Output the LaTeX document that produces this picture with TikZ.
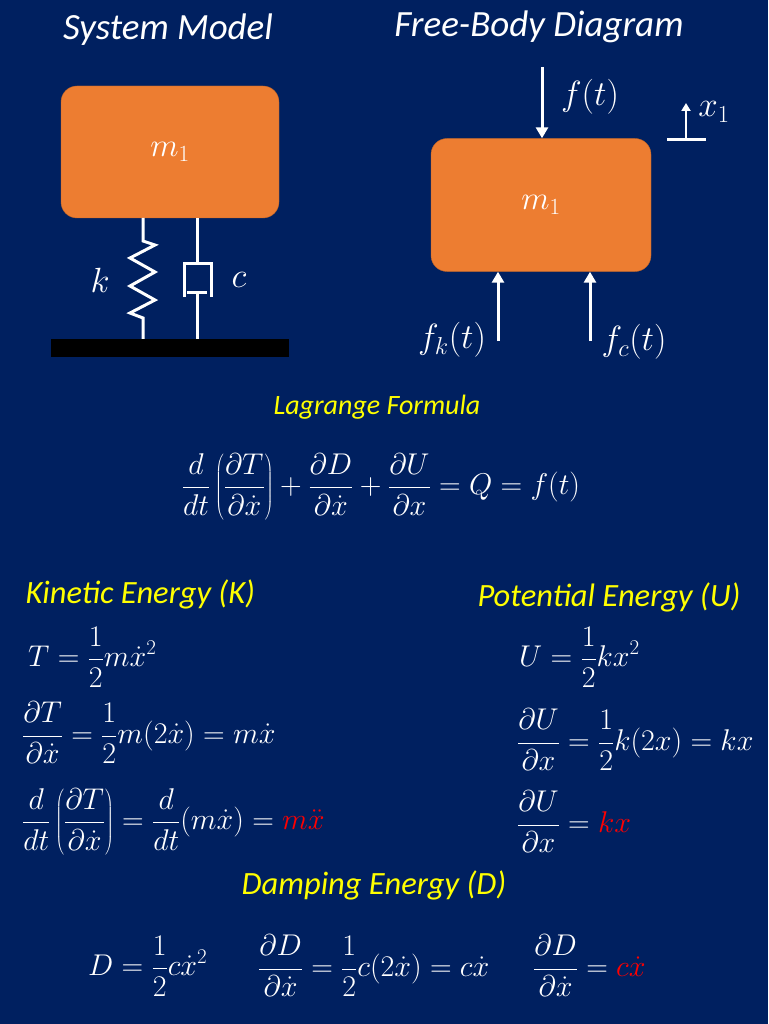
\RequirePackage{fix-cm}
\documentclass[tikz,border=0pt]{standalone}
\usepackage{fontspec}
\setmainfont{Carlito}
\usetikzlibrary{arrows.meta}
\usetikzlibrary{positioning}
\definecolor{slidenavy}{HTML}{002060}
\definecolor{massorange}{HTML}{ED7D31}
\definecolor{headyellow}{HTML}{FFFF00}
\definecolor{hotred}{HTML}{FF0000}
\tikzset{
  massbox/.style={rectangle,rounded corners=16pt,fill=massorange,draw=massorange!80!black,thin,text=white,inner sep=0pt,font=\fontsize{33}{36}\selectfont},
  slidetitle/.style={font=\fontsize{37}{40}\selectfont\itshape,text=white},
  yellowhead/.style={font=\fontsize{32.5}{36}\selectfont\itshape,text=headyellow},
  eqn/.style={font=\fontsize{30}{34}\selectfont,text=white,inner sep=0pt},
  lbl/.style={font=\fontsize{35}{38}\selectfont,text=white,inner sep=0pt},
  wire/.style={white,line width=3pt},
  force/.style={white,line width=3pt,-{Triangle[width=12pt,length=11pt]}},
}
\begin{document}
\begin{tikzpicture}[x=1pt,y=-1pt]
\useasboundingbox (0,0) rectangle (768,1024);
\fill[slidenavy] (0,0) rectangle (768,1024);

% system model
\node[slidetitle] (systitle) at (168,30) {System Model};
\node[massbox,minimum width=218pt,minimum height=132pt] (mass) at (170,152) {$m_1$};
\node[fill=black,minimum width=238pt,minimum height=18pt,inner sep=0pt] (ground) at (170,348) {};
\coordinate (ktop) at (143,218);
\coordinate (ctop) at (197,218);
\draw[wire] (ktop) -- ++(0,23) -- ++(12,4) -- ++(-25,13) -- ++(25,14) -- ++(-25,14) -- ++(25,14) -- ++(-25,13) -- ++(13,5) -- (ground.north -| ktop);
\draw[wire] (ctop) -- ++(0,45) coordinate (cyl);
\draw[wire] (cyl) ++(-13,34) -- ++(0,-34) -- ++(27,0) -- ++(0,34);
\draw[wire] (cyl) ++(-10,29) -- ++(20,0);
\draw[wire] (cyl) ++(0,29) -- (ground.north -| ctop);
\node[lbl] (klbl) at (100,280) {$k$};
\node[lbl] (clbl) at (239,280) {$c$};

% free-body diagram
\node[slidetitle] (fbdtitle) at (539,27) {Free-Body Diagram};
\node[massbox,minimum width=220pt,minimum height=133pt] (fbd) at (541,205) {$m_1$};
\coordinate (ftop) at (542,67);
\draw[force] (ftop) -- (fbd.north -| ftop);
\node[lbl] (flbl) at (590,97) {$f(t)$};
\coordinate (fkbot) at (498,341);
\draw[force] (fkbot) -- (fbd.south -| fkbot);
\node[lbl] (fklbl) at (452,340) {$f_k(t)$};
\coordinate (fcbot) at (590,341);
\draw[force] (fcbot) -- (fbd.south -| fcbot);
\node[lbl] (fclbl) at (634,342) {$f_c(t)$};
\coordinate (xl) at (667,140);
\coordinate (xr) at (706,140);
\coordinate (xbase) at (686,140);
\coordinate (xtip) at (686,103);
\draw[wire] (xl) -- (xr);
\draw[white,line width=2.5pt,-{Triangle[width=9pt,length=8pt]}] (xbase) -- (xtip);
\node[lbl] (xlbl) at (714,112) {$x_1$};

% lagrange
\node[font=\fontsize{28}{32}\selectfont\itshape,text=headyellow] (laghead) at (377,407) {Lagrange Formula};
\node[eqn] (lageq) at (381,487) {$\displaystyle \frac{d}{dt}\left(\frac{\partial T}{\partial\dot x}\right)+\frac{\partial D}{\partial\dot x}+\frac{\partial U}{\partial x}=Q=f(t)$};

% kinetic
\node[yellowhead,anchor=west] (kinhead) at (22,594) {Kinetic Energy (K)};
\node[eqn,anchor=west] (kin1) at (28,657) {$\displaystyle T=\frac{1}{2}m\dot x^2$};
\node[eqn,anchor=west] (kin2) at (22,733) {$\displaystyle \frac{\partial T}{\partial\dot x}=\frac{1}{2}m(2\dot x)=m\dot x$};
\node[eqn,anchor=west] (kin3) at (22,822) {$\displaystyle \frac{d}{dt}\left(\frac{\partial T}{\partial\dot x}\right)=\frac{d}{dt}(m\dot x)=\textcolor{hotred}{m\ddot x}$};

% potential
\node[yellowhead,anchor=west] (pothead) at (474,597) {Potential Energy (U)};
\node[eqn,anchor=west] (pot1) at (519,657) {$\displaystyle U=\frac{1}{2}kx^2$};
\node[eqn,anchor=west] (pot2) at (517,740) {$\displaystyle \frac{\partial U}{\partial x}=\frac{1}{2}k(2x)=kx$};
\node[eqn,anchor=west] (pot3) at (517,822) {$\displaystyle \frac{\partial U}{\partial x}=\textcolor{hotred}{kx}$};

% damping
\node[yellowhead] (damphead) at (374,885) {Damping Energy (D)};
\node[eqn,anchor=west] (damp1) at (88,966) {$\displaystyle D=\frac{1}{2}c\dot x^2$};
\node[eqn,anchor=west] (damp2) at (258,966) {$\displaystyle \frac{\partial D}{\partial\dot x}=\frac{1}{2}c(2\dot x)=c\dot x$};
\node[eqn,anchor=west] (damp3) at (533,966) {$\displaystyle \frac{\partial D}{\partial\dot x}=\textcolor{hotred}{c\dot x}$};
\end{tikzpicture}
\end{document}
